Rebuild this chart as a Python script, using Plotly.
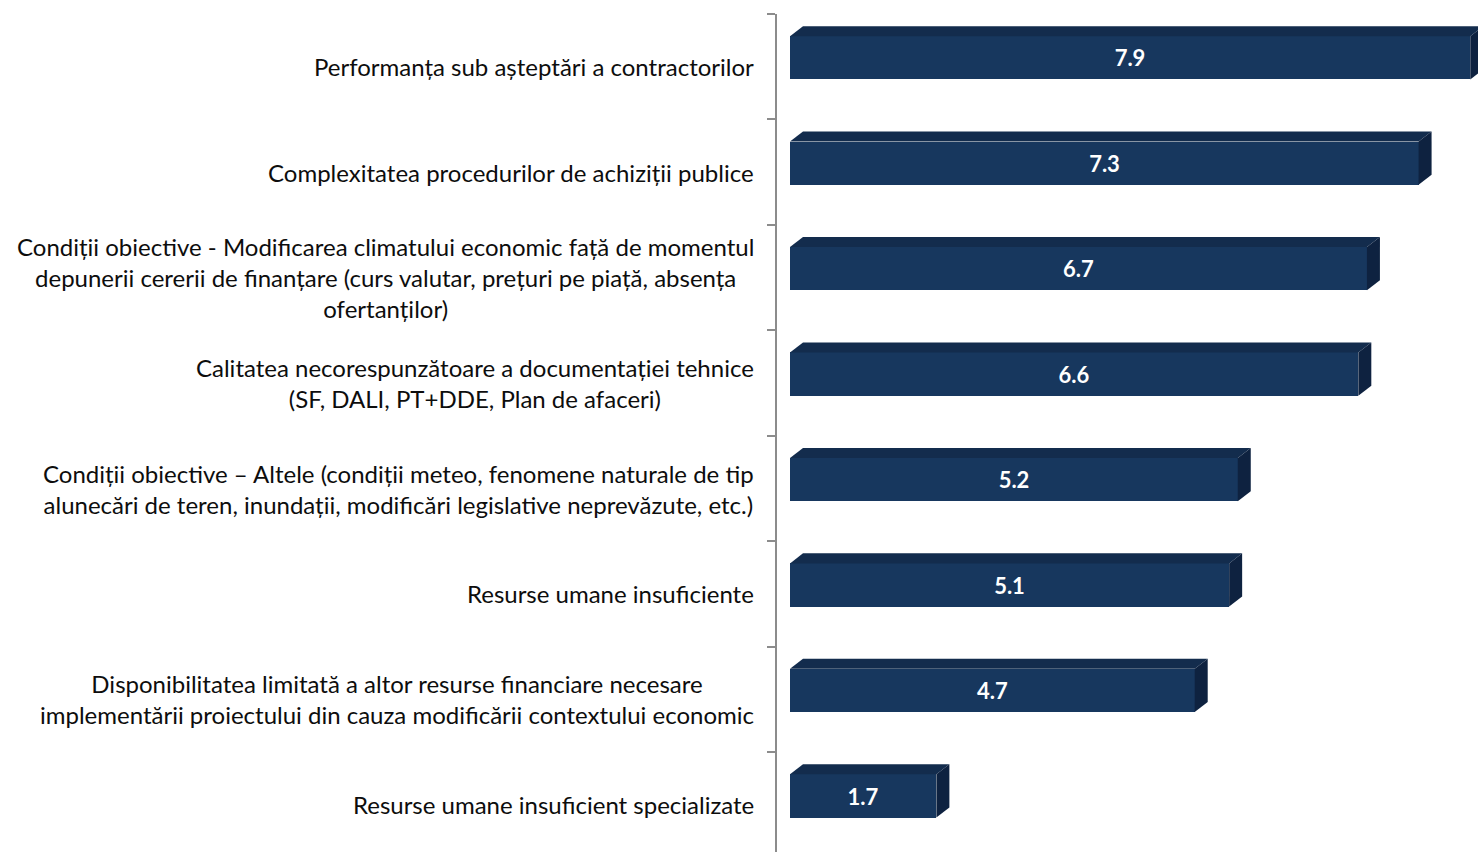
import plotly.graph_objects as go

# categories listed bottom -> top (y = 0 .. 7)
categories = [
    "Resurse umane insuficient specializate",
    "Disponibilitatea limitată a altor resurse financiare necesare<br>implementării proiectului din cauza modificării contextului economic",
    "Resurse umane insuficiente",
    "Condiții obiective – Altele (condiții meteo, fenomene naturale de tip<br>alunecări de teren, inundații, modificări legislative neprevăzute, etc.)",
    "Calitatea necorespunzătoare a documentației tehnice<br>(SF, DALI, PT+DDE, Plan de afaceri)",
    "Condiții obiective - Modificarea climatului economic față de momentul<br>depunerii cererii de finanțare (curs valutar, prețuri pe piață, absența<br>ofertanților)",
    "Complexitatea procedurilor de achiziții publice",
    "Performanța sub așteptări a contractorilor",
]
values = [1.7, 4.7, 5.1, 5.2, 6.6, 6.7, 7.3, 7.9]

FRONT = "#17375e"
TOP = "#132c4d"
SIDE = "#0e2240"

# bar geometry (data units)
bar_w = 0.41
bar_off = -0.12
dx = 0.151
dy = 0.095

pos = list(range(len(categories)))

fig = go.Figure()

# front faces
fig.add_trace(go.Bar(
    y=pos, x=values, orientation="h",
    width=bar_w, offset=bar_off,
    marker=dict(color=FRONT, line=dict(width=0)),
    text=[f"{v:.1f}" for v in values],
    textposition="inside", insidetextanchor="middle",
    textfont=dict(family="Lato", size=22, color="white", weight="bold"),
    showlegend=False, hoverinfo="skip",
))

# 3d top and side faces
for p, v in zip(pos, values):
    lo = p + bar_off
    hi = p + bar_off + bar_w
    fig.add_trace(go.Scatter(
        x=[0, dx, v + dx, v, 0],
        y=[hi, hi + dy, hi + dy, hi, hi],
        fill="toself", fillcolor=TOP, mode="lines",
        line=dict(width=0, color=TOP),
        showlegend=False, hoverinfo="skip",
    ))
    fig.add_trace(go.Scatter(
        x=[v, v + dx, v + dx, v, v],
        y=[lo, lo + dy, hi + dy, hi, lo],
        fill="toself", fillcolor=SIDE, mode="lines",
        line=dict(width=0, color=SIDE),
        showlegend=False, hoverinfo="skip",
    ))

# category labels (centered multi-line, right aligned block)
for p, c in zip(pos, categories):
    fig.add_annotation(
        x=0, xref="paper", y=p, yref="y",
        xanchor="right", yanchor="middle", xshift=-21,
        text=c, showarrow=False, align="center",
        font=dict(family="Lato", size=24, color="#0d0d0d"),
    )

fig.update_layout(
    width=1478, height=852,
    margin=dict(l=777, r=0, t=14, b=0),
    plot_bgcolor="white", paper_bgcolor="white",
    bargap=0,
)
fig.update_xaxes(
    range=[-0.151, 7.99], visible=False, showgrid=False, zeroline=False,
)
fig.update_yaxes(
    range=[-0.447, 7.5],
    showline=True, linecolor="#8c8c8c", linewidth=1.5,
    ticks="outside", ticklen=8, tickcolor="#8c8c8c", tickwidth=1.5,
    tickvals=[i - 0.5 for i in range(len(categories) + 1)],
    showticklabels=False, showgrid=False, zeroline=False,
)

fig.write_html(
    "out.html",
    config={"displayModeBar": False},
    post_script="document.body.style.margin='0';document.body.style.overflow='hidden';",
)
